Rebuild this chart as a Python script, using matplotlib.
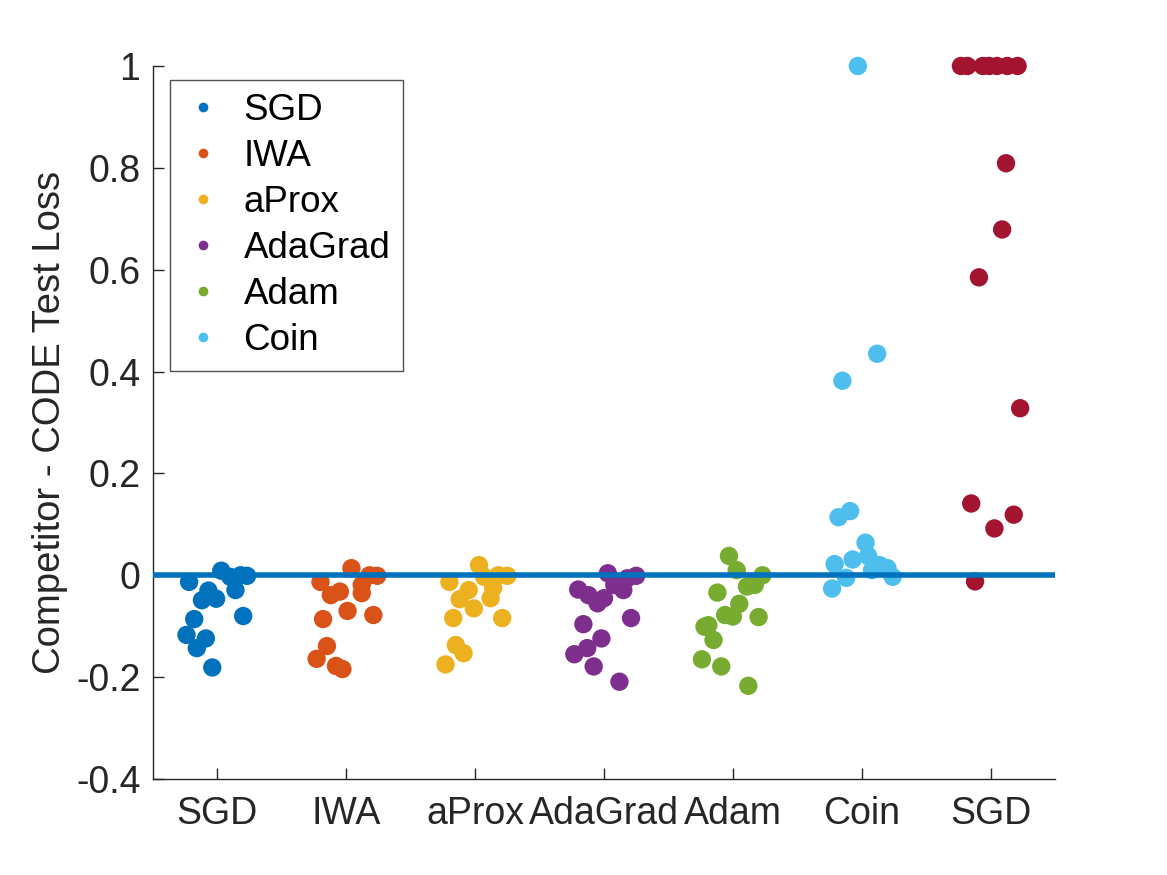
import matplotlib
matplotlib.use("Agg")
import matplotlib.pyplot as plt
from matplotlib.lines import Line2D
import numpy as np

plt.rcParams['font.family'] = ['Liberation Sans', 'DejaVu Sans']

categories = ["SGD", "IWA", "aProx", "AdaGrad", "Adam", "Coin", "SGD"]
legend_names = ["SGD", "IWA", "aProx", "AdaGrad", "Adam", "Coin"]
colors = ["#0072BD", "#D95319", "#EDB120", "#7E2F8E", "#77AC30", "#4DBEEE", "#A2142F"]

# values (Competitor - CODE test loss) and horizontal jitter (in category units)
sgd_vals = [0.009, -0.013, -0.003, 0.000, -0.001, -0.029, -0.030, -0.049, -0.046,
            -0.080, -0.086, -0.117, -0.124, -0.143, -0.181]
sgd_jit = [0.03, -0.22, 0.10, 0.18, 0.23, 0.14, -0.07, -0.12, -0.01,
           0.20, -0.18, -0.24, -0.09, -0.16, -0.04]

iwa_vals = [0.014, -0.013, 0.000, -0.001, -0.019, -0.032, -0.039, -0.035, -0.070,
            -0.078, -0.086, -0.139, -0.164, -0.178, -0.184]
iwa_jit = [0.04, -0.20, 0.18, 0.24, 0.12, -0.05, -0.12, 0.12, 0.01,
           0.21, -0.18, -0.15, -0.23, -0.08, -0.03]

aprox_vals = [0.020, -0.013, 0.000, -0.001, -0.003, -0.025, -0.029, -0.047, -0.045,
              -0.065, -0.084, -0.084, -0.137, -0.153, -0.175]
aprox_jit = [0.03, -0.20, 0.18, 0.25, 0.07, 0.14, -0.05, -0.12, 0.12,
             -0.01, 0.21, -0.17, -0.15, -0.09, -0.23]

adagrad_vals = [0.004, -0.001, -0.006, -0.028, -0.039, -0.045, -0.055, -0.019,
                -0.029, -0.084, -0.096, -0.124, -0.143, -0.155, -0.179, -0.209]
adagrad_jit = [0.03, 0.25, 0.18, -0.20, -0.12, 0.00, -0.05, 0.08,
               0.15, 0.21, -0.16, -0.02, -0.13, -0.23, -0.08, 0.12]

adam_vals = [0.038, 0.010, 0.000, -0.022, -0.019, -0.034, -0.056, -0.078, -0.081,
             -0.082, -0.098, -0.101, -0.127, -0.165, -0.179, -0.217]
adam_jit = [-0.03, 0.03, 0.23, 0.11, 0.17, -0.12, 0.05, -0.06, 0.00,
            0.20, -0.19, -0.22, -0.15, -0.24, -0.09, 0.12]

coin_vals = [1.000, 0.435, 0.382, 0.126, 0.114, 0.064, 0.038, 0.031, 0.022,
             0.020, 0.014, -0.003, -0.005, -0.026, 0.010]
coin_jit = [-0.03, 0.12, -0.15, -0.09, -0.18, 0.03, 0.05, -0.07, -0.21,
            0.14, 0.20, 0.24, -0.12, -0.23, 0.08]

sgd2_vals = [1.0, 1.0, 1.0, 1.0, 1.0, 1.0, 1.0, 0.809, 0.679, 0.585, 0.328,
             0.141, 0.119, 0.092, -0.012]
sgd2_jit = [-0.23, -0.18, -0.06, -0.01, 0.05, 0.13, 0.21, 0.12, 0.09, -0.09, 0.23,
            -0.15, 0.18, 0.03, -0.12]

groups = [(sgd_vals, sgd_jit), (iwa_vals, iwa_jit), (aprox_vals, aprox_jit),
          (adagrad_vals, adagrad_jit), (adam_vals, adam_jit), (coin_vals, coin_jit),
          (sgd2_vals, sgd2_jit)]

yticks = [-0.4, -0.2, 0, 0.2, 0.4, 0.6, 0.8, 1]
ytick_labels = ["-0.4", "-0.2", "0", "0.2", "0.4", "0.6", "0.8", "1"]

fig = plt.figure(figsize=(11.67, 8.75), dpi=100)
ax = fig.add_axes([0.1311, 0.1097, 0.7729, 0.8149])

for i, (vals, jit) in enumerate(groups):
    xs = (i + 1) + np.array(jit)
    ax.scatter(xs, vals, s=175, color=colors[i], edgecolors='none', zorder=2, clip_on=False)

ax.axhline(0, color="#0072BD", linewidth=4, zorder=3)

ax.set_xlim(0.5, 7.5)
ax.set_ylim(-0.4, 1.0)
ax.set_xticks(range(1, 8))
ax.set_xticklabels(categories)
ax.set_yticks(yticks)
ax.set_yticklabels(ytick_labels)

for s in ['top', 'right']:
    ax.spines[s].set_visible(False)
for s in ['left', 'bottom']:
    ax.spines[s].set_color('#262626')
    ax.spines[s].set_linewidth(1.0)

ax.tick_params(axis='both', direction='in', length=8, width=1.0, colors='#262626',
               labelsize=27, labelcolor='#262626')
ax.tick_params(axis='x', pad=12)
ax.tick_params(axis='y', pad=9)

ax.set_ylabel("Competitor - CODE Test Loss", fontsize=27.5, color='#262626', labelpad=6)

handles = [Line2D([0], [0], marker='o', linestyle='none', markersize=7,
                  markerfacecolor=c, markeredgecolor='none') for c in colors[:6]]
leg = ax.legend(handles, legend_names, loc='upper left', bbox_to_anchor=(0.0188, 0.980),
                borderaxespad=0, fontsize=26.5, frameon=True, fancybox=False,
                handlelength=1.1, handletextpad=0.55, borderpad=0.35, labelspacing=0.3)
leg.get_frame().set_edgecolor('#262626')
leg.get_frame().set_linewidth(1.0)

fig.savefig("out.png", dpi=100, facecolor='white')
